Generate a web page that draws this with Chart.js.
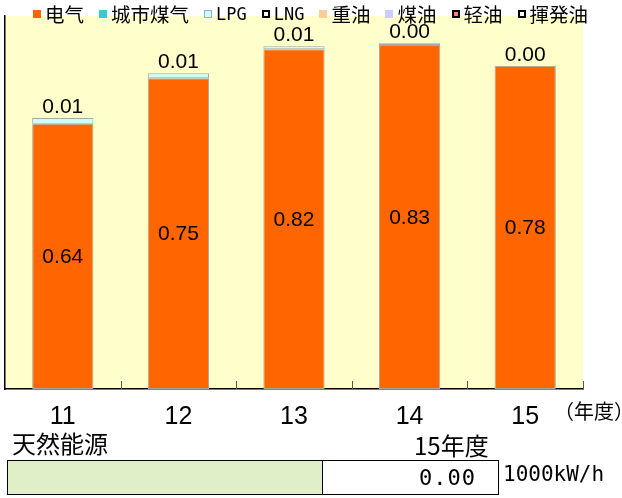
<!DOCTYPE html>
<html>
<head>
<meta charset="utf-8">
<script src="https://cdn.jsdelivr.net/npm/chart.js@4.4.1/dist/chart.umd.min.js"></script>
<style>
  body { margin: 0; background: #fff; }
  #wrap { position: relative; width: 622px; height: 498px; overflow: hidden; font-family: "Liberation Sans", Arial, sans-serif; }
  #chartBox { position: absolute; left: 0; top: 0; width: 622px; height: 454px; }
  #legend { position: absolute; left: 33px; top: 3px; display: flex; font-family: "Noto Sans CJK JP", sans-serif; font-size: 19.5px; line-height: 22px; color: #000; }
  #legend .item { display: flex; align-items: center; margin-right: 15px; white-space: nowrap; }
  #legend .box { width: 8px; height: 8px; margin-right: 4px; box-sizing: border-box; }
  #legend .mono { font-family: "DejaVu Sans Mono", monospace; font-size: 17px; }
  .txt { position: absolute; white-space: nowrap; color: #000; }
  #yearUnit { left: 554px; top: 396px; font-family: "Noto Sans CJK JP", sans-serif; font-size: 20px; }
  #natLabel { left: 12px; top: 425px; font-family: "Noto Sans CJK JP", sans-serif; font-size: 24px; }
  #natYear { left: 414px; top: 427px; font-family: "Noto Sans CJK JP", sans-serif; font-size: 24px; }
  #natTable { position: absolute; left: 7px; top: 460px; border-collapse: collapse; }
  #natTable td { border: 1px solid #000; height: 33px; padding: 0; }
  #natTable .green { width: 314px; background: #e0efc8; }
  #natTable .val { width: 176px; text-align: right; padding-right: 22px; box-sizing: border-box; font-family: "DejaVu Sans Mono", monospace; font-size: 22px; letter-spacing: 1px; }
  #unit { left: 503px; top: 462px; font-family: "DejaVu Sans Mono", monospace; font-size: 21px; }
</style>
</head>
<body>
<div id="wrap">
  <div id="chartBox"><canvas id="myChart" width="622" height="454"></canvas></div>
  <div id="legend"></div>
  <div class="txt" id="yearUnit">（年度）</div>
  <div class="txt" id="natLabel"></div>
  <div class="txt" id="natYear"></div>
  <table id="natTable"><tr><td class="green"></td><td class="val" id="natValue"></td></tr></table>
  <div class="txt" id="unit"></div>
</div>
<script>
// fiscal years
const years = ['11', '12', '13', '14', '15'];

// energy use per fuel
const electricity = [0.64, 0.75, 0.82, 0.83, 0.78];
const cityGas = [0, 0, 0, 0, 0];
const lpg = [0.014, 0.012, 0.007, 0.004, 0];
const lng = [0, 0, 0, 0, 0];
const heavyOil = [0, 0, 0, 0, 0];
const kerosene = [0, 0, 0, 0, 0];
const lightOil = [0, 0, 0, 0, 0];
const gasoline = [0, 0, 0, 0, 0];

// natural energy box under the chart
const naturalLabel = '天然能源';
const naturalYear = '15年度';
const naturalValue = 0.00;
const naturalUnit = '1000kW/h';

const yMax = 0.9;

function ds(label, data, color, legendBorder, mono) {
  return {
    label: label,
    data: data,
    backgroundColor: color,
    borderColor: '#a8a8a8',
    borderWidth: data.some(v => v > 0) ? 1 : 0,
    borderSkipped: false,
    legendBorder: legendBorder,
    mono: mono || false,
  };
}

const datasets = [
  ds('电气', electricity, '#ff6600', null),
  ds('城市煤气', cityGas, '#33cccc', null),
  ds('LPG', lpg, '#ccffff', '#9ad', true),
  ds('LNG', lng, '#ffffff', '#000', true),
  ds('重油', heavyOil, '#ffcc99', null),
  ds('煤油', kerosene, '#ccccff', null),
  ds('轻油', lightOil, '#ff8080', '#000'),
  ds('揮発油', gasoline, '#ffffff', '#000'),
];

// yellow plot background
const bgPlugin = {
  id: 'bg',
  beforeDraw(chart) {
    const { ctx, chartArea } = chart;
    ctx.save();
    ctx.fillStyle = '#ffffcc';
    ctx.fillRect(chartArea.left, chartArea.top, chartArea.right - chartArea.left, chartArea.bottom - chartArea.top);
    ctx.restore();
  }
};

// small inner ticks between categories + value labels
const labelPlugin = {
  id: 'labels',
  afterDatasetsDraw(chart) {
    const { ctx, chartArea } = chart;
    const x = chart.scales.x;
    ctx.save();
    ctx.strokeStyle = '#555';
    ctx.lineWidth = 1;
    for (let i = 1; i <= years.length; i++) {
      const px = Math.round(x.getPixelForValue(i - 0.5)) + 0.5;
      ctx.beginPath();
      ctx.moveTo(px, chartArea.bottom);
      ctx.lineTo(px, chartArea.bottom - 8);
      ctx.stroke();
    }

    ctx.fillStyle = '#000';
    ctx.textAlign = 'center';
    ctx.font = '21px "Liberation Sans", Arial, sans-serif';

    const elMeta = chart.getDatasetMeta(0);
    elMeta.data.forEach((bar, i) => {
      ctx.textBaseline = 'middle';
      ctx.fillText(electricity[i].toFixed(2), bar.x, (bar.y + bar.base) / 2 + 1);
    });

    const topMeta = chart.getDatasetMeta(2);
    topMeta.data.forEach((bar, i) => {
      ctx.textBaseline = 'alphabetic';
      ctx.fillText(lpg[i].toFixed(2), bar.x, bar.y - 5);
    });
    ctx.restore();
  }
};

const ctx = document.getElementById('myChart').getContext('2d');
const myChart = new Chart(ctx, {
  type: 'bar',
  data: { labels: years, datasets: datasets },
  options: {
    responsive: false,
    animation: false,
    layout: { padding: { left: 5, right: 39, top: 16, bottom: 9 } },
    plugins: {
      legend: { display: false },
      tooltip: { enabled: false },
    },
    datasets: {
      bar: { categoryPercentage: 1.0, barPercentage: 0.53 }
    },
    scales: {
      x: {
        stacked: true,
        grid: { display: false, drawTicks: false },
        border: { display: true, color: '#000', width: 1.5 },
        ticks: {
          color: '#000',
          padding: 13,
          font: { family: '"Liberation Sans", Arial, sans-serif', size: 25 },
        },
      },
      y: {
        stacked: true,
        min: 0,
        max: yMax,
        grid: { display: false, drawTicks: false },
        border: { display: true, color: '#000', width: 1.5 },
        ticks: { display: false },
      },
    },
  },
  plugins: [bgPlugin, labelPlugin],
});

// html legend from the datasets
const legend = document.getElementById('legend');
myChart.data.datasets.forEach(d => {
  const item = document.createElement('div');
  item.className = 'item';
  const box = document.createElement('span');
  box.className = 'box';
  box.style.background = d.backgroundColor;
  if (d.legendBorder) box.style.border = (d.legendBorder === '#000' ? '2px' : '1px') + ' solid ' + d.legendBorder;
  const t = document.createElement('span');
  t.textContent = d.label;
  if (d.mono) t.className = 'mono';
  item.appendChild(box);
  item.appendChild(t);
  legend.appendChild(item);
});

document.getElementById('natLabel').textContent = naturalLabel;
document.getElementById('natYear').textContent = naturalYear;
document.getElementById('natValue').textContent = naturalValue.toFixed(2);
document.getElementById('unit').textContent = naturalUnit;
</script>
</body>
</html>
